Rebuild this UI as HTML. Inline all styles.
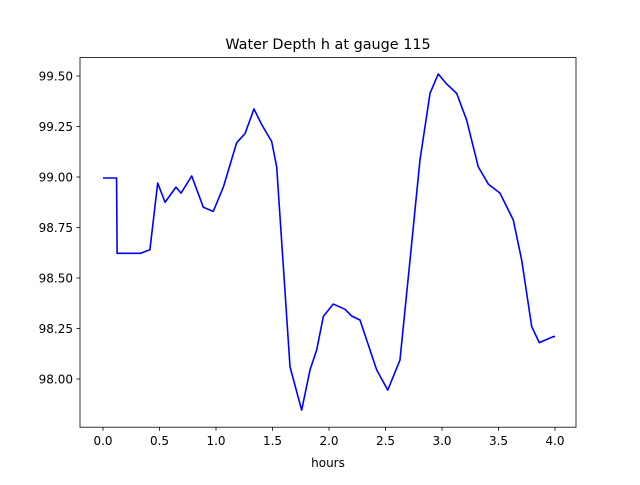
<!DOCTYPE html>
<html><head><meta charset="utf-8"><style>
body{margin:0;background:#fff}
svg text{font-family:"DejaVu Sans","Liberation Sans",sans-serif;fill:#000}
</style></head><body>
<svg width="640" height="480" xmlns="http://www.w3.org/2000/svg">
<rect width="640" height="480" fill="#fff"/>
<text x="328" y="49" font-size="14.4" text-anchor="middle">Water Depth h at gauge 115</text>
<g id="plot"></g>
<rect x="80" y="57.6" width="496" height="369.6" fill="none" stroke="#000" stroke-width="0.8"/>
<text x="328" y="467" font-size="12" text-anchor="middle">hours</text>
</svg>
<script>
const xs=[0,0.12,0.125,0.33,0.415,0.484,0.549,0.646,0.69,0.785,0.888,0.976,1.065,1.183,1.257,1.336,1.404,1.493,1.537,1.596,1.655,1.758,1.832,1.891,1.95,2.038,2.142,2.2,2.274,2.422,2.52,2.628,2.717,2.805,2.894,2.967,3.042,3.13,3.218,3.321,3.41,3.513,3.631,3.705,3.794,3.861,3.985,4.0];
const ys=[98.995,98.995,98.622,98.622,98.64,98.97,98.875,98.95,98.92,99.005,98.85,98.83,98.95,99.17,99.215,99.337,99.26,99.175,99.05,98.556,98.06,97.846,98.045,98.144,98.31,98.371,98.345,98.312,98.292,98.045,97.945,98.094,98.589,99.084,99.414,99.51,99.46,99.414,99.282,99.05,98.965,98.92,98.787,98.589,98.259,98.18,98.21,98.21];
const xTicks=[0,0.5,1,1.5,2,2.5,3,3.5,4];
const xTickLabels=["0.0","0.5","1.0","1.5","2.0","2.5","3.0","3.5","4.0"];
const yTicks=[98,98.25,98.5,98.75,99,99.25,99.5];
const yTickLabels=["98.00","98.25","98.50","98.75","99.00","99.25","99.50"];
const X=v=>103+v*113, Y=v=>76+(99.5-v)*202;
const NS="http://www.w3.org/2000/svg", g=document.getElementById('plot');
function mk(t,a){const e=document.createElementNS(NS,t);for(const k in a)e.setAttribute(k,a[k]);g.appendChild(e);return e;}
xTicks.forEach((v,i)=>{
 const l=mk('line',{x1:X(v),x2:X(v),y1:427.2,y2:430.7,stroke:'#000','stroke-width':0.8});
 
 
 const t=mk('text',{x:X(v),y:445,'font-size':12,'text-anchor':'middle'});t.textContent=xTickLabels[i];
 
 
});
yTicks.forEach((v,i)=>{
 const l=mk('line',{x1:76.5,x2:80,y1:Y(v),y2:Y(v),stroke:'#000','stroke-width':0.8});
 
 
 const t=mk('text',{x:73,y:Y(v)+4.5,'font-size':12,'text-anchor':'end'});t.textContent=yTickLabels[i];
 
 
});
const p=mk('polyline',{points:xs.map((v,i)=>X(v)+','+Y(ys[i])).join(' '),fill:'none',stroke:'#0000ff','stroke-width':1.6,'stroke-linejoin':'round'});


</script>
</body></html>
